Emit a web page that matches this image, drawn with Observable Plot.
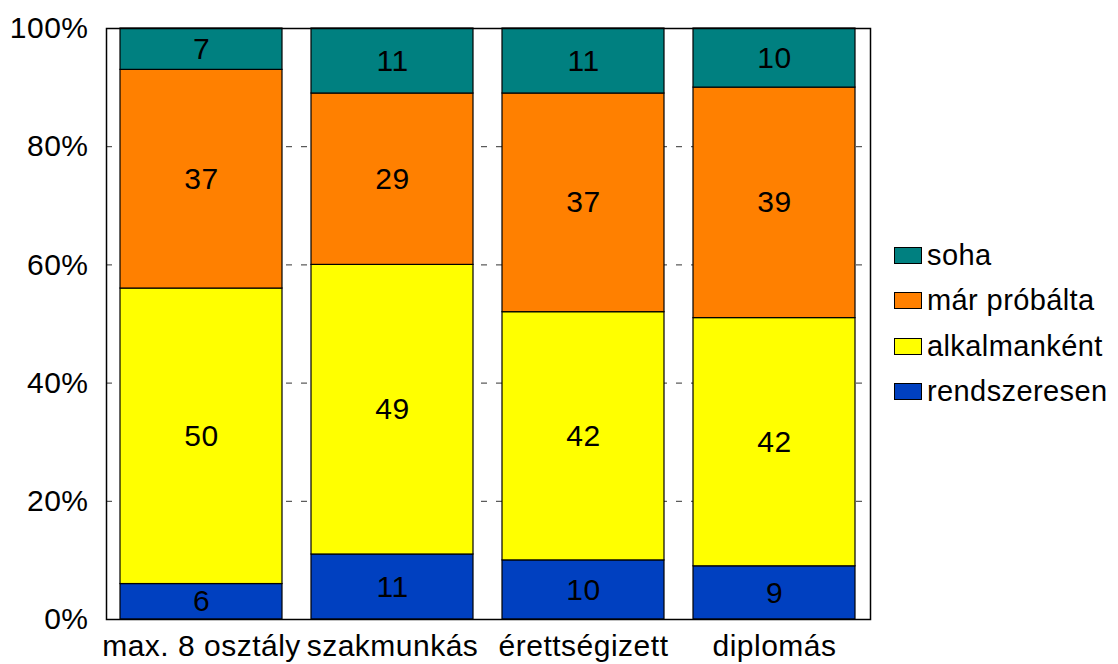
<!DOCTYPE html>
<html>
<head>
<meta charset="utf-8">
<script src="https://cdn.jsdelivr.net/npm/d3@7"></script>
<script src="https://cdn.jsdelivr.net/npm/@observablehq/plot@0.6"></script>
<style>
  html, body { margin: 0; padding: 0; background: #fff; }
  #wrap { position: relative; width: 1118px; height: 664px; font-family: "Liberation Sans", Arial, sans-serif; }
  #legend { position: absolute; left: 894px; top: 233px; }
  .row { display: flex; align-items: center; height: 45.3px; font-size: 29px; color: #000; letter-spacing: 0.4px; }
  .sw { width: 26px; height: 15px; border: 1.2px solid #000; margin-right: 5px; box-sizing: content-box; }
  svg text { letter-spacing: 0.5px; }
</style>
</head>
<body>
<div id="wrap"></div>
<script>
const categories = ["max. 8 osztály", "szakmunkás", "érettségizett", "diplomás"];
const series = ["rendszeresen", "alkalmanként", "már próbálta", "soha"];
const colors = ["#0040C0", "#FFFF00", "#FF8000", "#008080"];
const rendszeresen = [6, 11, 10, 9];
const alkalmankent = [50, 49, 42, 42];
const marProbalta = [37, 29, 37, 39];
const soha = [7, 11, 11, 10];
const yTicks = [0, 20, 40, 60, 80, 100];
const gridTicks = [20, 40, 60, 80];

const seriesValues = [rendszeresen, alkalmankent, marProbalta, soha];
const data = [];
series.forEach((s, si) => categories.forEach((c, ci) => data.push({cat: c, series: s, value: seriesValues[si][ci]})));

const chart = Plot.plot({
  width: 1118,
  height: 664,
  marginLeft: 106,
  marginRight: 248,
  marginTop: 28,
  marginBottom: 45,
  style: {fontFamily: "'Liberation Sans', Arial, sans-serif", fontSize: "30px", color: "#000", background: "#fff"},
  x: {domain: categories, paddingInner: 0.15, paddingOuter: 0.075, label: null},
  y: {domain: [0, 100], label: null},
  color: {domain: series, range: colors},
  marks: [
    Plot.ruleY(gridTicks, {stroke: "#333", strokeWidth: 1, strokeDasharray: "6,9"}),
    Plot.barY(data, Plot.stackY({x: "cat", y: "value", fill: "series", order: series, stroke: "#000", strokeWidth: 1.2})),
    Plot.text(data, Plot.stackY({x: "cat", y: "value", z: "series", order: series, text: d => String(d.value), fontSize: 30, fill: "#000"})),
    Plot.frame({stroke: "#000", strokeWidth: 1.5}),
    Plot.axisY(yTicks, {tickSize: 0, tickPadding: 18, tickFormat: d => d + "%", fontSize: 30, label: null}),
    Plot.axisX({tickSize: 0, tickPadding: 15, fontSize: 30, label: null})
  ]
});
document.getElementById("wrap").appendChild(chart);

const legend = document.createElement("div");
legend.id = "legend";
const legendOrder = ["soha", "már próbálta", "alkalmanként", "rendszeresen"];
legendOrder.forEach(s => {
  const row = document.createElement("div");
  row.className = "row";
  const sw = document.createElement("div");
  sw.className = "sw";
  sw.style.background = colors[series.indexOf(s)];
  const t = document.createElement("span");
  t.textContent = s;
  row.appendChild(sw);
  row.appendChild(t);
  legend.appendChild(row);
});
document.getElementById("wrap").appendChild(legend);
</script>
</body>
</html>
